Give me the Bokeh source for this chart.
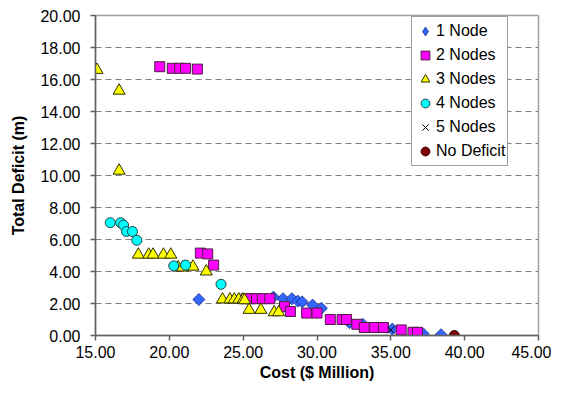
import math
from bokeh.plotting import figure
from bokeh.models import Range1d, FixedTicker, PrintfTickFormatter, Legend, LegendItem
from bokeh.embed import file_html
from bokeh.resources import INLINE

# 1 Node
n1_x = [22.0, 27.05, 27.7, 28.3, 28.7, 29.0, 29.7, 30.3, 32.2, 33.1, 35.1, 37.2, 38.4]
n1_y = [2.25, 2.4, 2.3, 2.3, 2.15, 2.1, 1.9, 1.7, 0.8, 0.7, 0.4, 0.1, 0.05]
# 2 Nodes
n2_x = [19.35, 20.2, 20.7, 21.1, 21.9, 22.1, 22.6, 23.0,
        25.2, 25.5, 25.9, 26.3, 26.8, 27.8, 28.2, 29.3, 30.0, 30.9, 31.7, 32.0,
        32.7, 33.2, 33.9, 34.5, 35.7, 36.5, 36.8]
n2_y = [16.8, 16.7, 16.7, 16.7, 16.65, 5.15, 5.1, 4.4,
        2.3, 2.3, 2.3, 2.3, 2.3, 1.8, 1.5, 1.4, 1.4, 1.0, 1.0, 1.0,
        0.7, 0.5, 0.5, 0.5, 0.35, 0.2, 0.2]
# 3 Nodes
n3_x = [15.1, 16.6, 16.6, 17.9, 18.6, 18.9, 19.6, 20.1, 20.6, 20.9, 21.6, 22.5,
        23.6, 24.1, 24.4, 24.7, 25.0, 25.1, 25.4, 26.2, 27.1, 27.4]
n3_y = [16.6, 15.3, 10.3, 5.05, 5.05, 5.05, 5.05, 5.05, 4.25, 4.25, 4.3, 4.0,
        2.25, 2.25, 2.25, 2.25, 2.25, 2.2, 1.6, 1.6, 1.45, 1.45]
# 4 Nodes
n4_x = [16.0, 16.7, 16.9, 17.1, 17.5, 17.8, 20.3, 21.1, 23.5]
n4_y = [7.05, 7.05, 6.9, 6.5, 6.5, 5.95, 4.35, 4.4, 3.2]
# 5 Nodes
n5_x = [35.0]
n5_y = [0.35]
# No Deficit
nd_x = [39.3]
nd_y = [0.0]

x_ticks = [15, 20, 25, 30, 35, 40, 45]
y_ticks = [0, 2, 4, 6, 8, 10, 12, 14, 16, 18, 20]

FONT = "Liberation Sans"

p = figure(width=551, height=384, output_backend="svg", toolbar_location=None,
           x_range=Range1d(15, 45), y_range=Range1d(0, 20),
           min_border_left=95, min_border_right=13, min_border_top=15, min_border_bottom=49)
p.background_fill_color = "white"
p.border_fill_color = "white"
p.outline_line_color = "#a0a0a0"
p.outline_line_width = 1.5

p.xgrid.visible = False
p.ygrid.grid_line_color = "#808080"
p.ygrid.grid_line_dash = "6 4"
p.ygrid.grid_line_width = 1.2

for ax in (p.xaxis[0], p.yaxis[0]):
    ax.axis_line_color = "#606060"
    ax.axis_line_width = 1.5
    ax.major_tick_line_color = "#606060"
    ax.major_tick_line_width = 1.5
    ax.major_tick_out = 5
    ax.major_tick_in = 0
    ax.minor_tick_line_color = None
    ax.major_label_text_font = FONT
    ax.major_label_text_font_size = "16px"
    ax.major_label_text_color = "black"
    ax.axis_label_text_font = FONT
    ax.axis_label_text_font_style = "bold"
    ax.axis_label_text_font_size = "16px"
    ax.axis_label_text_color = "black"
    ax.formatter = PrintfTickFormatter(format="%.2f")

p.xaxis.ticker = FixedTicker(ticks=x_ticks)
p.yaxis.ticker = FixedTicker(ticks=y_ticks)
p.xaxis.axis_label = "Cost ($ Million)"
p.yaxis.axis_label = "Total Deficit (m)"
p.xaxis.major_label_standoff = 5
p.yaxis.major_label_standoff = 10
p.xaxis.axis_label_standoff = 3
p.yaxis.axis_label_standoff = 10

# legend glyph for "1 Node" (diamond shape); drawn first, hidden under the first r1 point
r1_leg = p.scatter(n1_x[:1], n1_y[:1], marker="diamond", size=10,
                   fill_color="#3366FF", line_color="#1a2a80", line_width=0.8)

r1 = p.scatter(n1_x, n1_y, marker="square", angle=math.pi / 4, size=8.5,
               fill_color="#3366FF", line_color="#1a2a80", line_width=0.8)
r2 = p.scatter(n2_x, n2_y, marker="square", size=10, fill_color="#FF00FF", line_color="#4a2040", line_width=1)
r3 = p.scatter(n3_x, n3_y, marker="triangle", size=12, fill_color="#FFFF00", line_color="#303000", line_width=1)
r4 = p.scatter(n4_x, n4_y, marker="circle", size=10, fill_color="#00FFFF", line_color="#204040", line_width=1)
r5 = p.scatter(n5_x, n5_y, marker="x", size=10, line_color="black", line_width=1)
r6 = p.scatter(nd_x, nd_y, marker="circle", size=10, fill_color="#800000", line_color="#300000", line_width=1)

legend = Legend(items=[
    LegendItem(label="1 Node", renderers=[r1_leg]),
    LegendItem(label="2 Nodes", renderers=[r2]),
    LegendItem(label="3 Nodes", renderers=[r3]),
    LegendItem(label="4 Nodes", renderers=[r4]),
    LegendItem(label="5 Nodes", renderers=[r5]),
    LegendItem(label="No Deficit", renderers=[r6]),
], location=(316, 169))
legend.label_text_font = FONT
legend.label_text_font_size = "16px"
legend.label_text_color = "black"
legend.border_line_color = "#404040"
legend.border_line_width = 1
legend.background_fill_color = "white"
legend.background_fill_alpha = 1
legend.padding = 2
legend.spacing = 0
legend.glyph_width = 22
legend.glyph_height = 24
legend.label_height = 24
legend.label_standoff = 0
legend.margin = 0
p.add_layout(legend, "center")

open("out.html", "w").write(file_html(p, INLINE))
